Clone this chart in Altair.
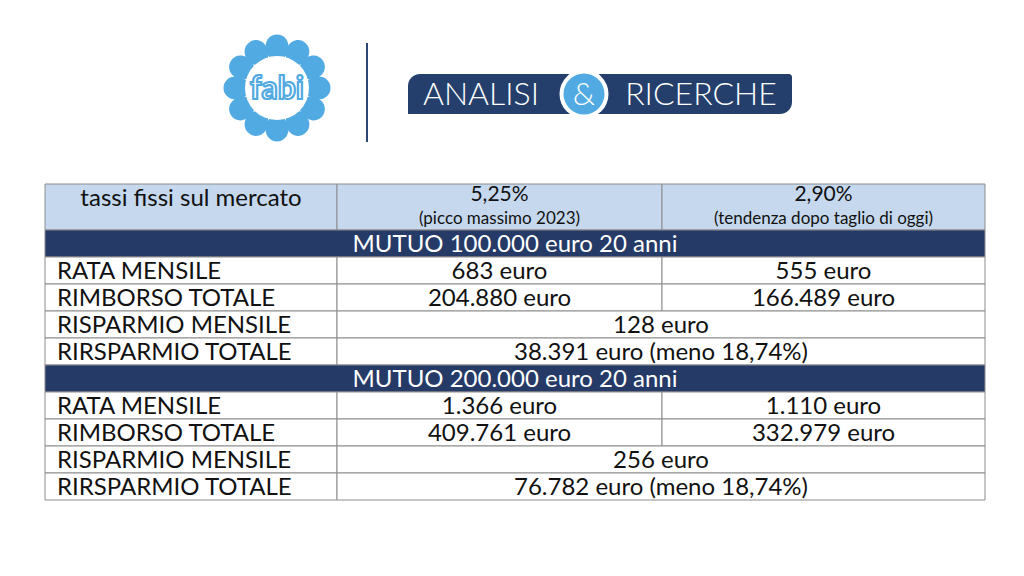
import math
import altair as alt
import pandas as pd

# ---------------- data ----------------
header_labels = ["tassi fissi sul mercato", "5,25%", "2,90%"]
header_notes = ["", "(picco massimo 2023)", "(tendenza dopo taglio di oggi)"]
section_titles = ["MUTUO 100.000 euro 20 anni", "MUTUO 200.000 euro 20 anni"]
row_labels = ["RATA MENSILE", "RIMBORSO TOTALE", "RISPARMIO MENSILE", "RIRSPARMIO TOTALE"]
rate_high_values = [["683 euro", "204.880 euro"], ["1.366 euro", "409.761 euro"]]
rate_low_values = [["555 euro", "166.489 euro"], ["1.110 euro", "332.979 euro"]]
savings_values = [["128 euro", "38.391 euro (meno 18,74%)"], ["256 euro", "76.782 euro (meno 18,74%)"]]
banner_words = ["ANALISI", "&", "RICERCHE"]
logo_word = "fabi"
petal_count = 12

# ---------------- layout ----------------
FONT = "Lato"
DARK = "#253A66"
LIGHT = "#C5D8ED"
GRID = "#8C8C8C"
FLOWER = "#52AAE2"
col_edges = [45, 337, 662, 985]
header_top, header_bottom = 184, 230
row_h = 27

rects, texts_c, texts_l, head_c, notes = [], [], [], [], []

# header
for i in range(3):
    rects.append(dict(x=col_edges[i], x2=col_edges[i + 1], y=header_top, y2=header_bottom, fill=LIGHT))
    cx = (col_edges[i] + col_edges[i + 1]) / 2
    if header_notes[i]:
        head_c.append(dict(x=cx, y=195, text=header_labels[i], color="#111111"))
        notes.append(dict(x=cx, y=219, text=header_notes[i], color="#111111"))
    else:
        texts_c.append(dict(x=cx, y=199, text=header_labels[i], color="#111111"))

y = header_bottom
for s in range(2):
    rects.append(dict(x=col_edges[0], x2=col_edges[3], y=y, y2=y + row_h, fill=DARK))
    texts_c.append(dict(x=(col_edges[0] + col_edges[3]) / 2, y=y + row_h / 2 + 1, text=section_titles[s], color="#FFFFFF"))
    y += row_h
    for r in range(4):
        rects.append(dict(x=col_edges[0], x2=col_edges[1], y=y, y2=y + row_h, fill="#FFFFFF"))
        texts_l.append(dict(x=col_edges[0] + 12, y=y + row_h / 2 + 1, text=row_labels[r], color="#111111"))
        if r < 2:
            for c, vals in ((1, rate_high_values), (2, rate_low_values)):
                rects.append(dict(x=col_edges[c], x2=col_edges[c + 1], y=y, y2=y + row_h, fill="#FFFFFF"))
                texts_c.append(dict(x=(col_edges[c] + col_edges[c + 1]) / 2, y=y + row_h / 2 + 1,
                                    text=vals[s][r], color="#111111"))
        else:
            rects.append(dict(x=col_edges[1], x2=col_edges[3], y=y, y2=y + row_h, fill="#FFFFFF"))
            texts_c.append(dict(x=(col_edges[1] + col_edges[3]) / 2, y=y + row_h / 2 + 1,
                                text=savings_values[s][r - 2], color="#111111"))
        y += row_h

X = alt.Scale(domain=[8, 1016])
Y = alt.Scale(domain=[8, 568], reverse=True)


def xq(f="x"):
    return alt.X(f"{f}:Q", scale=X, axis=None)


def yq(f="y"):
    return alt.Y(f"{f}:Q", scale=Y, axis=None)


def text_layer(rows, size, align="center"):
    return alt.Chart(pd.DataFrame(rows)).mark_text(
        font=FONT, fontSize=size, align=align, baseline="middle"
    ).encode(x=xq(), y=yq(), text="text:N", color=alt.Color("color:N", scale=None))


rect_layer = alt.Chart(pd.DataFrame(rects)).mark_rect(stroke=GRID, strokeWidth=1).encode(
    x=xq(), x2="x2:Q", y=yq(), y2="y2:Q", fill=alt.Fill("fill:N", scale=None)
)

# ---------------- logo ----------------
fcx, fcy = 277, 88
petals = []
for k in range(petal_count):
    a = 360 / petal_count * k
    petals.append(dict(x=fcx + 40 * math.sin(math.radians(a)), y=fcy - 40 * math.cos(math.radians(a)), angle=a))
petal_path = ("M 0 -1 C 0.5 -1 0.85 -0.6 0.85 -0.1 C 0.85 0.45 0.4 1 0 1 "
              "C -0.4 1 -0.85 0.45 -0.85 -0.1 C -0.85 -0.6 -0.5 -1 0 -1 Z")
petal_layer = alt.Chart(pd.DataFrame(petals)).mark_point(
    shape=petal_path, filled=True, opacity=1, color=FLOWER, size=27 * 27
).encode(x=xq(), y=yq(), angle=alt.Angle("angle:Q", scale=None))

flower_center = pd.DataFrame([dict(x=fcx, y=fcy, d=64, fill="#FFFFFF")])
amp_circles = pd.DataFrame([
    dict(x=584, y=94, d=49, fill="#FFFFFF"),
    dict(x=584, y=94, d=41, fill=FLOWER),
])


def circle_layer(df):
    return alt.Chart(df).transform_calculate(s="datum.d * datum.d").mark_point(
        shape="circle", filled=True, opacity=1
    ).encode(x=xq(), y=yq(), size=alt.Size("s:Q", scale=None), color=alt.Color("fill:N", scale=None))


logo_text = alt.Chart(pd.DataFrame([dict(x=fcx, y=fcy + 1, text=logo_word)])).mark_text(
    font=FONT, fontSize=32, fontWeight="bold", align="center", baseline="middle",
    color="#FFFFFF", stroke=FLOWER, strokeWidth=2.2
).encode(x=xq(), y=yq(), text="text:N")

sep_line = alt.Chart(pd.DataFrame([dict(x=367, y=43, y2=142)])).mark_rule(
    color="#2C4675", strokeWidth=2
).encode(x=xq(), y=yq(), y2="y2:Q")

banner = alt.Chart(pd.DataFrame([dict(x=408, x2=792, y=74, y2=114)])).mark_rect(
    color="#243F6C", cornerRadiusTopLeft=12, cornerRadiusBottomRight=12, cornerRadiusTopRight=3
).encode(x=xq(), x2="x2:Q", y=yq(), y2="y2:Q")

banner_text = alt.Chart(pd.DataFrame([
    dict(x=481, y=95, text=banner_words[0]),
    dict(x=584, y=95, text=banner_words[1]),
    dict(x=701, y=95, text=banner_words[2]),
])).mark_text(font=FONT, fontSize=32, fontWeight=300, align="center", baseline="middle", color="#FFFFFF").encode(
    x=xq(), y=yq(), text="text:N"
)

chart = alt.layer(
    rect_layer,
    text_layer(texts_c, 24), text_layer(texts_l, 24, "left"),
    text_layer(head_c, 21), text_layer(notes, 17),
    petal_layer, circle_layer(flower_center), logo_text, sep_line,
    banner, circle_layer(amp_circles), banner_text,
).properties(
    width=1008, height=560, background="#FFFFFF", padding=0, autosize=alt.AutoSizeParams(type="none")
).configure_view(stroke=None)

chart.save("out.html", embed_options={"renderer": "svg", "actions": False})
